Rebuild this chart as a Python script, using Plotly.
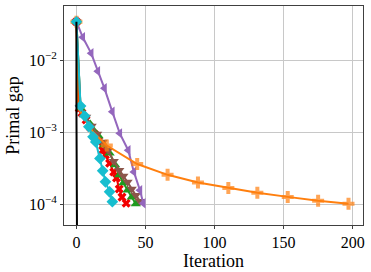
import plotly.graph_objects as go

# ---- data ----
red_x = [0, 2, 4, 7, 10, 13, 16, 19, 21, 24, 27, 29, 31, 33, 36]
red_y = [0.034, 2.15e-3, 1.84e-3, 1.47e-3, 1.17e-3, 9.4e-4, 7.5e-4, 5.6e-4, 4.8e-4, 3.7e-4, 2.8e-4, 2.3e-4, 1.62e-4, 1.25e-4, 1.03e-4]

green_x = [0, 3, 6, 10, 13, 16, 20, 24, 28, 31, 34, 37, 40, 43]
green_y = [0.034, 2.15e-3, 1.72e-3, 1.29e-3, 1.03e-3, 8.8e-4, 6.6e-4, 5.1e-4, 3.5e-4, 2.53e-4, 1.96e-4, 1.56e-4, 1.25e-4, 1.0e-4]

brown_x = [0, 3, 7, 11, 15, 19, 23, 27, 31, 34, 37, 40, 43, 46]
brown_y = [0.034, 2.15e-3, 1.62e-3, 1.21e-3, 9.4e-4, 7.3e-4, 5.6e-4, 3.95e-4, 2.96e-4, 2.45e-4, 2.02e-4, 1.62e-4, 1.33e-4, 1.1e-4]

purple_x = [0, 4.6, 10.7, 15.5, 20.3, 26, 31.4, 37.5, 41.6, 46, 48.4]
purple_y = [0.034, 0.0207, 0.0124, 7.0e-3, 4.05e-3, 1.91e-3, 9.6e-4, 5.6e-4, 2.8e-4, 1.56e-4, 1.03e-4]

orange_x = [0, 1, 12, 22, 44, 66, 88, 110, 131, 153, 175, 197]
orange_y = [0.034, 2.2e-3, 1.0e-3, 6.5e-4, 3.6e-4, 2.55e-4, 2.0e-4, 1.68e-4, 1.44e-4, 1.26e-4, 1.11e-4, 1.01e-4]
orange_marked = [True, False, False, True, True, True, True, True, True, True, True, True]

teal_x = [0, 3, 6, 9, 12, 14, 17, 19, 21, 24, 26]
teal_y = [0.034, 2.3e-3, 1.67e-3, 1.19e-3, 8.6e-4, 7.3e-4, 4.3e-4, 2.9e-4, 2.04e-4, 1.48e-4, 1.08e-4]

black_x = [0, 0, 1]
black_y = [0.034, 2.2e-3, 1e-7]

x_ticks = [0, 50, 100, 150, 200]
y_ticks = [1e-4, 1e-3, 1e-2]
y_ticktext = ["10<sup>−4</sup>", "10<sup>−3</sup>", "10<sup>−2</sup>"]

FONT = "Liberation Serif, Times New Roman, serif"

fig = go.Figure()

def add(x, y, color, symbol, size=8, sizes=None):
    fig.add_trace(go.Scatter(
        x=x, y=y, mode="lines+markers",
        line=dict(color=color, width=2),
        marker=dict(symbol=symbol, color=color, size=sizes if sizes is not None else size,
                    line=dict(width=0)),
        showlegend=False,
    ))

add(red_x, red_y, "#f20000", "x", 8)
add(green_x, green_y, "#1f9a1f", "triangle-up", 9)
add(brown_x, brown_y, "#8c564b", "triangle-down", 9)
add(purple_x, purple_y, "#9467bd", "triangle-left", 9)
add(orange_x, orange_y, "#ff7f0e", "cross", sizes=[10 if m else 0 for m in orange_marked])
add(teal_x, teal_y, "#17becf", "diamond", 9)
fig.add_trace(go.Scatter(x=black_x, y=black_y, mode="lines",
                         line=dict(color="black", width=2), showlegend=False))

fig.update_layout(
    width=371, height=272,
    margin=dict(l=64, r=8, t=6, b=47, autoexpand=False),
    paper_bgcolor="white", plot_bgcolor="white",
    font=dict(family=FONT, size=16, color="black"),
)
fig.update_xaxes(
    range=[-9, 207.5], tickvals=x_ticks,
    showgrid=True, gridcolor="#c8c8c8", gridwidth=1,
    showline=True, linecolor="#404040", linewidth=1, mirror=True,
    ticks="outside", ticklen=3, tickcolor="#404040",
    zeroline=False, automargin=False,
    title=dict(text="Iteration", font=dict(family=FONT, size=18), standoff=2),
    tickfont=dict(family=FONT, size=16),
)
fig.update_yaxes(
    type="log", range=[-4.29, -1.25], tickvals=y_ticks, ticktext=y_ticktext,
    showgrid=True, gridcolor="#c8c8c8", gridwidth=1,
    showline=True, linecolor="#404040", linewidth=1, mirror=True,
    ticks="outside", ticklen=3, tickcolor="#404040",
    zeroline=False, automargin=False,
    title=dict(text="Primal gap", font=dict(family=FONT, size=18), standoff=4),
    tickfont=dict(family=FONT, size=16),
)

fig.write_html("out.html", config={"displayModeBar": False},
               post_script="document.body.style.margin='0';")
